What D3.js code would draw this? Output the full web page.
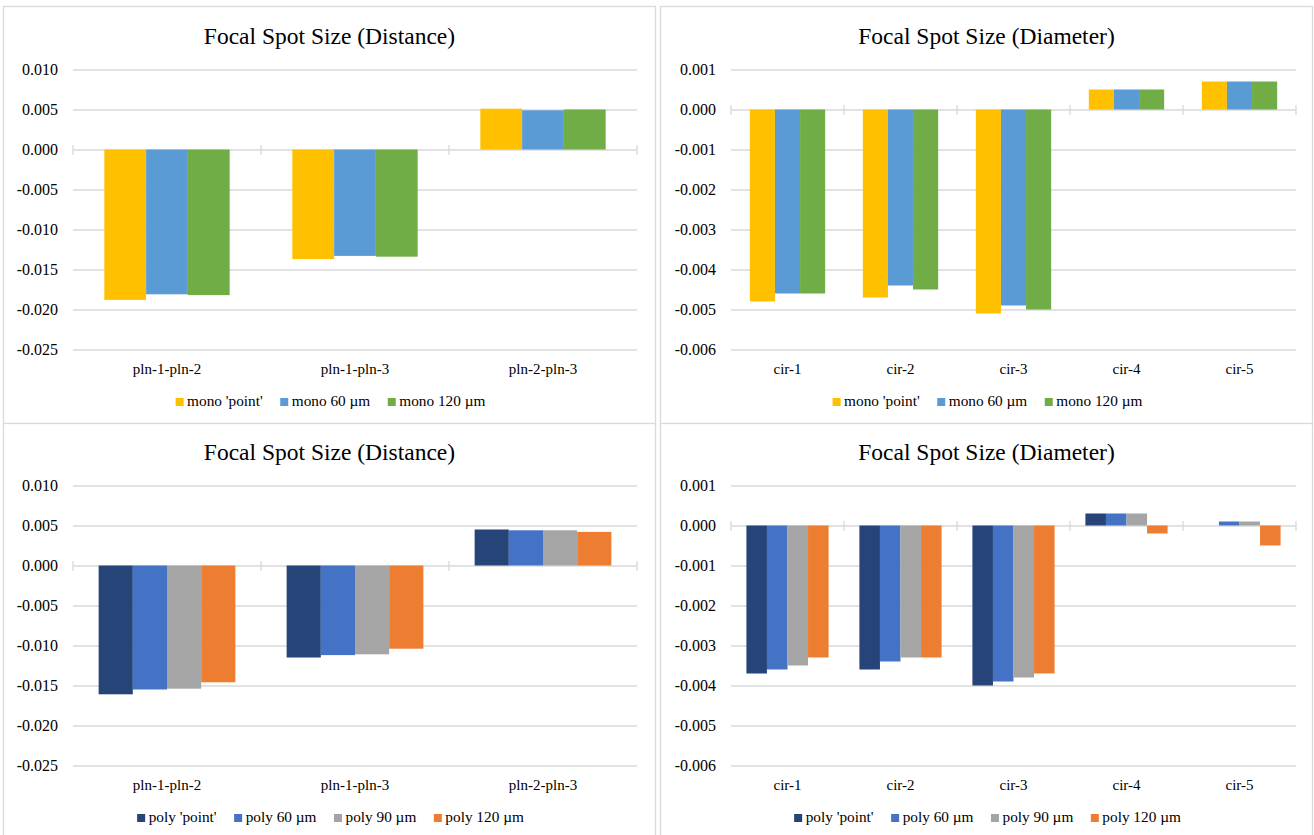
<!DOCTYPE html>
<html>
<head>
<meta charset="utf-8">
<script src="https://cdn.jsdelivr.net/npm/d3@7"></script>
<style>
  html, body { margin: 0; padding: 0; background: #fff; }
  svg { display: block; }
  text { font-family: "Liberation Serif", "Times New Roman", serif; fill: #000; }
</style>
</head>
<body>
<svg id="chart" width="1314" height="835"></svg>
<script>
// ---------- data ----------
const distCategories = ["pln-1-pln-2", "pln-1-pln-3", "pln-2-pln-3"];
const diamCategories = ["cir-1", "cir-2", "cir-3", "cir-4", "cir-5"];

const monoSeries = ["mono 'point'", "mono 60 µm", "mono 120 µm"];
const polySeries = ["poly 'point'", "poly 60 µm", "poly 90 µm", "poly 120 µm"];

const monoColors = ["#FFC000", "#5B9BD5", "#70AD47"];
const polyColors = ["#264478", "#4472C4", "#A5A5A5", "#ED7D31"];

// values per series (one array per series, in category order)
const monoDistPoint = [-0.0188, -0.0137, 0.0051];
const monoDist60    = [-0.0181, -0.0133, 0.0049];
const monoDist120   = [-0.0182, -0.0134, 0.0050];

const monoDiamPoint = [-0.0048, -0.0047, -0.0051, 0.0005, 0.0007];
const monoDiam60    = [-0.0046, -0.0044, -0.0049, 0.0005, 0.0007];
const monoDiam120   = [-0.0046, -0.0045, -0.0050, 0.0005, 0.0007];

const polyDistPoint = [-0.0161, -0.0115, 0.0045];
const polyDist60    = [-0.0155, -0.0112, 0.0044];
const polyDist90    = [-0.0154, -0.0111, 0.0044];
const polyDist120   = [-0.0146, -0.0104, 0.0042];

const polyDiamPoint = [-0.0037, -0.0036, -0.0040, 0.0003, 0.0000];
const polyDiam60    = [-0.0036, -0.0034, -0.0039, 0.0003, 0.0001];
const polyDiam90    = [-0.0035, -0.0033, -0.0038, 0.0003, 0.0001];
const polyDiam120   = [-0.0033, -0.0033, -0.0037, -0.0002, -0.0005];

const distTicks = [0.010, 0.005, 0.000, -0.005, -0.010, -0.015, -0.020, -0.025];
const distTickLabels = ["0.010", "0.005", "0.000", "-0.005", "-0.010", "-0.015", "-0.020", "-0.025"];
const diamTicks = [0.001, 0.000, -0.001, -0.002, -0.003, -0.004, -0.005, -0.006];
const diamTickLabels = ["0.001", "0.000", "-0.001", "-0.002", "-0.003", "-0.004", "-0.005", "-0.006"];

const titleDist = "Focal Spot Size (Distance)";
const titleDiam = "Focal Spot Size (Diameter)";

// ---------- drawing ----------
const svg = d3.select("#chart");
const GRID = "#d9d9d9";

function drawPanel(opt) {
  const g = svg.append("g").attr("transform", `translate(${opt.px},${opt.py})`);
  const W = 652, H = opt.h, s = opt.shift;
  g.append("rect").attr("x", 0).attr("y", 0).attr("width", W).attr("height", H)
    .attr("fill", "#fff").attr("stroke", GRID).attr("stroke-width", 1.3);

  g.append("text").attr("x", W / 2).attr("y", 36.5 + s).attr("text-anchor", "middle")
    .style("font-size", "23.5px").text(opt.title);

  const left = opt.left, right = opt.right, top = 62 + s, bottom = 342 + s;
  const y = d3.scaleLinear().domain([d3.min(opt.ticks), d3.max(opt.ticks)]).range([bottom, top]);
  const x0 = d3.scaleBand().domain(opt.categories).range([left, right]).padding(0);
  const n = opt.series.length;
  const bw = x0.bandwidth();
  const groupW = bw * n / (n + 1.5);
  const x1 = d3.scaleBand().domain(opt.series).range([(bw - groupW) / 2, (bw + groupW) / 2]).padding(0);

  // gridlines
  g.append("g").selectAll("line").data(opt.ticks).join("line")
    .attr("x1", left).attr("x2", right)
    .attr("y1", d => Math.round(y(d)) + 0.5).attr("y2", d => Math.round(y(d)) + 0.5)
    .attr("stroke", GRID).attr("stroke-width", 1.3);

  // y tick labels
  g.append("g").selectAll("text").data(opt.ticks).join("text")
    .attr("x", left - 15).attr("y", d => y(d)).attr("dy", "0.35em")
    .attr("text-anchor", "end").style("font-size", "16px")
    .text((d, i) => opt.tickLabels[i]);

  // category axis ticks at zero line
  const y0 = Math.round(y(0)) + 0.5;
  const bounds = opt.categories.map(c => x0(c)).concat([right]);
  g.append("g").selectAll("line").data(bounds).join("line")
    .attr("x1", d => d).attr("x2", d => d)
    .attr("y1", y0 - 5).attr("y2", y0 + 5)
    .attr("stroke", GRID).attr("stroke-width", 1.3);

  // bars
  opt.series.forEach((sr, si) => {
    g.append("g").selectAll("rect").data(opt.values[si]).join("rect")
      .attr("x", (d, i) => x0(opt.categories[i]) + x1(sr))
      .attr("width", x1.bandwidth())
      .attr("y", d => Math.min(y(d), y(0)))
      .attr("height", d => Math.abs(y(d) - y(0)))
      .attr("fill", opt.colors[si]);
  });

  // category labels
  g.append("g").selectAll("text").data(opt.categories).join("text")
    .attr("x", d => x0(d) + bw / 2).attr("y", 366.5 + s)
    .attr("text-anchor", "middle").style("font-size", "15px")
    .text(d => d);

  // legend
  const lg = g.append("g");
  let cx = 0;
  opt.series.forEach((sr, si) => {
    const it = lg.append("g");
    it.append("rect").attr("x", cx).attr("y", 390.5 + s).attr("width", 8).attr("height", 8)
      .attr("fill", opt.colors[si]);
    const t = it.append("text").attr("x", cx + 11.5).attr("y", 398.5 + s)
      .style("font-size", "15.3px").text(sr);
    const tw = t.node().getComputedTextLength();
    cx += 11.5 + tw + 17.5;
  });
  const total = cx - 17.5;
  lg.attr("transform", `translate(${W / 2 - total / 2 + 1},0)`);
}

drawPanel({ px: 3.5, py: 6.5, h: 417.5, shift: 1, title: titleDist, categories: distCategories,
  series: monoSeries, colors: monoColors, values: [monoDistPoint, monoDist60, monoDist120],
  ticks: distTicks, tickLabels: distTickLabels, left: 69.5, right: 633.5 });

drawPanel({ px: 660.5, py: 6.5, h: 417.5, shift: 1, title: titleDiam, categories: diamCategories,
  series: monoSeries, colors: monoColors, values: [monoDiamPoint, monoDiam60, monoDiam120],
  ticks: diamTicks, tickLabels: diamTickLabels, left: 70.5, right: 635.5 });

drawPanel({ px: 3.5, py: 423.5, h: 420, shift: 0, title: titleDist, categories: distCategories,
  series: polySeries, colors: polyColors, values: [polyDistPoint, polyDist60, polyDist90, polyDist120],
  ticks: distTicks, tickLabels: distTickLabels, left: 69.5, right: 633.5 });

drawPanel({ px: 660.5, py: 423.5, h: 420, shift: 0, title: titleDiam, categories: diamCategories,
  series: polySeries, colors: polyColors, values: [polyDiamPoint, polyDiam60, polyDiam90, polyDiam120],
  ticks: diamTicks, tickLabels: diamTickLabels, left: 70.5, right: 635.5 });
</script>
</body>
</html>
